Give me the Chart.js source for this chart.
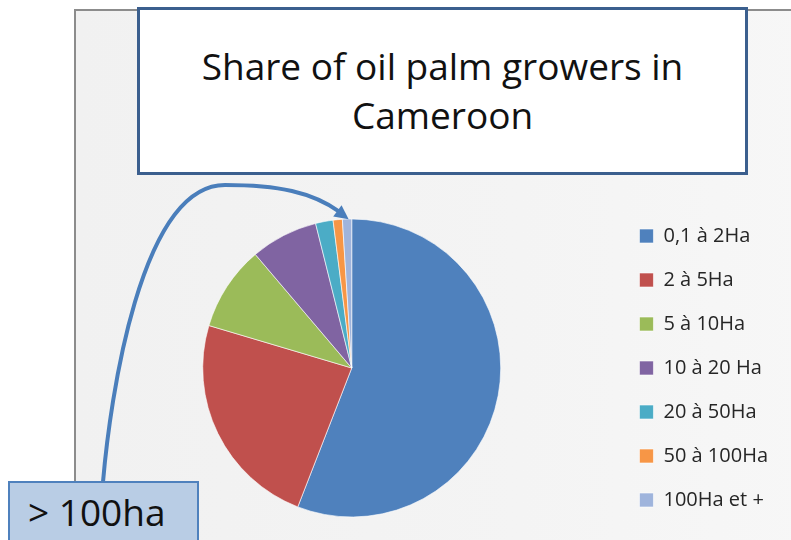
<!DOCTYPE html>
<html>
<head>
<meta charset="utf-8">
<script src="https://cdn.jsdelivr.net/npm/chart.js@4.4.1/dist/chart.umd.min.js"></script>
<style>
  html, body { margin: 0; padding: 0; background: #fff; }
  body { width: 791px; height: 540px; position: relative; overflow: hidden; font-family: "Open Sans", sans-serif; }
  #panel {
    position: absolute; left: 74px; top: 9px; width: 740px; height: 560px;
    background: linear-gradient(90deg, #f1f1f1 0%, #f4f4f4 60%, #f7f7f7 100%);
    border-left: 2px solid #8c8c8c; border-top: 2px solid #8c8c8c;
  }
  #chart { position: absolute; left: 0; top: 0; }
  #titleBox {
    position: absolute; left: 137px; top: 7px; width: 611px; height: 168px;
    background: #fff; border: 3px solid #3b5f8e; box-sizing: border-box;
    text-align: center; color: #111; font-size: 37px; line-height: 49px;
    padding-top: 31px;
  }
  #note {
    position: absolute; left: 8px; top: 481px; width: 191px; height: 70px;
    background: #b9cde5; border: 2px solid #4f81bd; box-sizing: border-box;
    font-size: 37px; color: #111; padding-left: 18px; line-height: 58px;
  }
</style>
</head>
<body>
<div id="panel"></div>
<canvas id="chart" width="791" height="540"></canvas>
<div id="titleBox">Share of oil palm growers in<br>Cameroon</div>
<div id="note">&gt; 100ha</div>
<script>
"use strict";

const categories = ['0,1 à 2Ha', '2 à 5Ha', '5 à 10Ha', '10 à 20 Ha', '20 à 50Ha', '50 à 100Ha', '100Ha et +'];
const shares = [55.9, 23.7, 9.2, 7.3, 1.9, 1.0, 1.0];
const sliceColors = ['#4f81bd', '#c0504d', '#9bbb59', '#8064a2', '#4bacc6', '#f79646', '#9fb4dc'];

// curved arrow from the "> 100ha" box to the last slice
const arrowPlugin = {
  id: 'arrowToSlice',
  afterDraw(chart) {
    const arcs = chart.getDatasetMeta(0).data;
    const last = arcs[arcs.length - 1];
    const p = last.getProps(['x', 'y', 'startAngle', 'endAngle', 'outerRadius'], true);
    const mid = (p.startAngle + p.endAngle) / 2;
    const tipX = p.x + Math.cos(mid) * (p.outerRadius + 1);
    const tipY = p.y + Math.sin(mid) * (p.outerRadius + 1);

    const ctx = chart.ctx;
    ctx.save();
    ctx.strokeStyle = '#4a7ebb';
    ctx.fillStyle = '#4a7ebb';
    ctx.lineWidth = 4;
    ctx.lineCap = 'round';
    ctx.beginPath();
    ctx.moveTo(103, 482);
    ctx.bezierCurveTo(110, 400, 140, 185, 225, 185);
    ctx.bezierCurveTo(278, 185, 312, 192, tipX - 7, tipY - 6);
    ctx.stroke();
    // arrow head
    const ang = Math.atan2(tipY - 192, tipX - 312);
    ctx.translate(tipX, tipY);
    ctx.rotate(ang);
    ctx.beginPath();
    ctx.moveTo(2, 0);
    ctx.lineTo(-12, -7);
    ctx.lineTo(-12, 7);
    ctx.closePath();
    ctx.fill();
    ctx.restore();
  }
};

new Chart(document.getElementById('chart'), {
  type: 'pie',
  data: {
    labels: categories,
    datasets: [{
      data: shares,
      backgroundColor: sliceColors,
      borderColor: 'rgba(255,255,255,0.6)',
      borderWidth: 1,
      radius: 149
    }]
  },
  options: {
    responsive: false,
    animation: false,
    layout: { padding: { left: 88, right: 13, top: 200, bottom: 4 } },
    plugins: {
      tooltip: { enabled: false },
      legend: {
        position: 'right',
        labels: {
          boxWidth: 14,
          boxHeight: 14,
          padding: 24,
          color: '#262626',
          font: { family: 'Open Sans', size: 20 }
        }
      }
    }
  },
  plugins: [arrowPlugin]
});
</script>
</body>
</html>
